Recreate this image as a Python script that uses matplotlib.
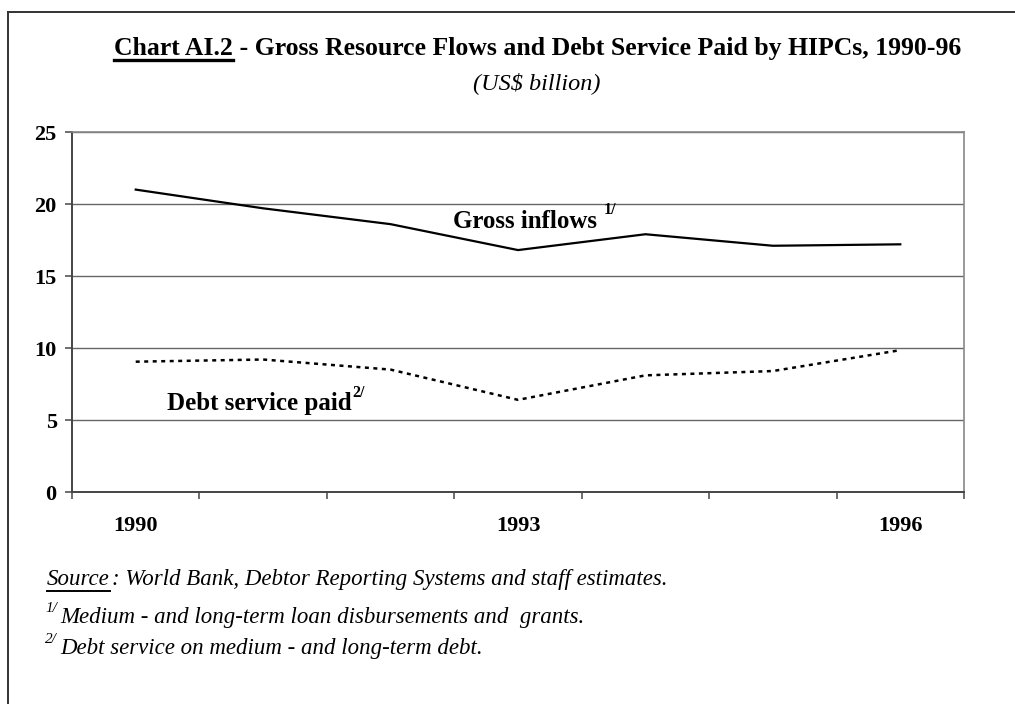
import matplotlib
matplotlib.use("Agg")
import matplotlib.pyplot as plt
from matplotlib.lines import Line2D

years = ["1990", "1991", "1992", "1993", "1994", "1995", "1996"]
shown_years = ["1990", "1993", "1996"]
gross_inflows = [21.0, 19.7, 18.6, 16.8, 17.9, 17.1, 17.2]
debt_service = [9.05, 9.2, 8.5, 6.4, 8.1, 8.4, 9.85]
y_ticks = [0, 5, 10, 15, 20, 25]

plt.rcParams["font.family"] = ["Liberation Serif", "DejaVu Serif"]

W, H = 1015, 704
fig = plt.figure(figsize=(W / 100, H / 100), dpi=100)
ax = fig.add_axes([72 / W, (H - 492) / H, (964 - 72) / W, (492 - 132) / H])

x = list(range(len(years)))
ax.plot(x, gross_inflows, color="black", lw=1.6, solid_joinstyle="miter")
ax.plot(x, debt_service, color="black", lw=1.8, linestyle=(0, (1.6, 1.8)))

ax.set_xlim(-0.5, len(years) - 0.5)
ax.set_ylim(0, 25)
ax.set_yticks(y_ticks)
ax.set_yticklabels([str(v) for v in y_ticks], fontsize=16, fontweight="bold")
ax.set_xticks([years.index(y) for y in shown_years])
ax.set_xticklabels(shown_years, fontsize=16, fontweight="bold")
ax.set_xticks([i - 0.5 for i in range(len(years) + 1)], minor=True)
ax.tick_params(axis="x", which="major", length=0, pad=17)
ax.tick_params(axis="x", which="minor", length=5, width=1.2, color="#555555", direction="out")
ax.tick_params(axis="y", length=5, width=1.2, color="#555555", pad=6)

ax.grid(axis="y", color="#666666", lw=1)
ax.set_axisbelow(True)
for side in ["left", "bottom"]:
    ax.spines[side].set_color("#444444")
    ax.spines[side].set_linewidth(1.4)
for side in ["right", "top"]:
    ax.spines[side].set_color("#888888")
    ax.spines[side].set_linewidth(1.2)

renderer = fig.canvas.get_renderer()


def px(xp, yp):
    return xp / W, 1 - yp / H


def width_of(t):
    return t.get_window_extent(renderer).width / W


def underline(t, y_px, lw=2):
    bb = t.get_window_extent(renderer)
    y0 = 1 - y_px / H
    fig.add_artist(Line2D([bb.x0 / W, bb.x1 / W], [y0, y0], color="black", lw=lw))


# Title with an underlined chart number, centred as one line
title_a = "Chart AI.2"
title_b = " - Gross Resource Flows and Debt Service Paid by HIPCs, 1990-96"
ta = fig.text(0, 0, title_a, fontsize=18.5, fontweight="bold", va="baseline")
tb = fig.text(0, 0, title_b, fontsize=18.5, fontweight="bold", va="baseline")
total = width_of(ta) + width_of(tb)
x0 = 538 / W - total / 2
ta.set_position((x0, 1 - 55 / H))
tb.set_position((x0 + width_of(ta), 1 - 55 / H))
underline(ta, 60, lw=2.4)

fig.text(*px(537, 83), "(US$ billion)", fontsize=17.5, style="italic", ha="center", va="center")

# Series labels with superscript footnote marks
g = fig.text(*px(453, 228), "Gross inflows", fontsize=18, fontweight="bold", va="baseline")
gb = g.get_window_extent(renderer)
fig.text(gb.x1 / W + 7 / W, 1 - 214 / H, "1/", fontsize=11.5, fontweight="bold", va="baseline")

d = fig.text(*px(167, 410), "Debt service paid", fontsize=18, fontweight="bold", va="baseline")
db = d.get_window_extent(renderer)
fig.text(db.x1 / W + 1 / W, 1 - 397 / H, "2/", fontsize=11.5, fontweight="bold", va="baseline")

# Footnotes
s = fig.text(*px(47, 585), "Source", fontsize=16.5, style="italic", va="baseline")
underline(s, 591, lw=1.4)
sb = s.get_window_extent(renderer)
fig.text(sb.x1 / W + 2 / W, 1 - 585 / H, ": World Bank, Debtor Reporting Systems and staff estimates.",
         fontsize=16.5, style="italic", va="baseline")

notes = ["Medium - and long-term loan disbursements and  grants.",
         "Debt service on medium - and long-term debt."]
marks = ["1/", "2/"]
for i, (m, n) in enumerate(zip(marks, notes)):
    yb = 623 + i * 31
    fig.text(*px(45, yb - 11), m, fontsize=11, style="italic", va="baseline")
    fig.text(*px(60, yb), n, fontsize=16.5, style="italic", va="baseline")

# Outer frame: top and left edges
fig.add_artist(Line2D([8 / W, 1], [1 - 12 / H, 1 - 12 / H], color="#333333", lw=1.4))
fig.add_artist(Line2D([8 / W, 8 / W], [0, 1 - 12 / H], color="#333333", lw=1.4))

fig.savefig("out.png", dpi=100)
